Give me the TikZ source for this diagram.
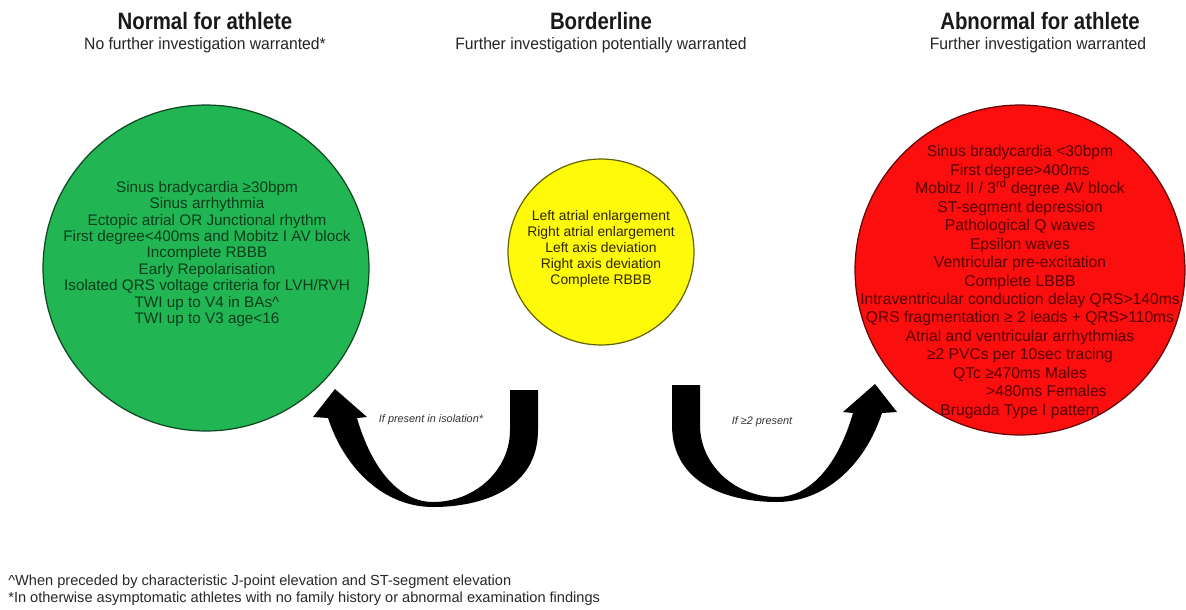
\documentclass[tikz,border=0pt]{standalone}
\usepackage{fontspec}
\setmainfont{Liberation Sans}
\definecolor{gfill}{RGB}{34,181,84}
\definecolor{yfill}{RGB}{255,250,10}
\definecolor{rfill}{RGB}{250,14,14}
\definecolor{gtext}{RGB}{10,62,26}
\definecolor{ytext}{RGB}{45,40,0}
\definecolor{rtext}{RGB}{90,0,0}
\definecolor{ftext}{RGB}{40,40,40}
\tikzset{
  disc/.style={circle, draw=#1!40!black, line width=0.7pt, inner sep=0pt},
  title/.style={font=\fontsize{13.5}{14}\selectfont\bfseries, text=black!90, inner sep=0pt},
  subtitle/.style={font=\fontsize{9.4}{10}\selectfont, text=black!85, inner sep=0pt},
  list/.style={align=center, inner sep=0pt},
  arrowlabel/.style={font=\fontsize{6.2}{7}\selectfont\itshape, text=black!80, inner sep=0pt},
  foot/.style={font=\fontsize{8.3}{9}\selectfont, text=ftext, anchor=west, inner sep=0pt},
  bigarrow/.style={fill=black, draw=none}
}
\begin{document}
\begin{tikzpicture}[x=0.02cm, y=-0.02cm]
\useasboundingbox (0,0) rectangle (1186,609);
\fill[white] (0,0) rectangle (1186,609);

% titles
\node[title] (t1) at (205,21) {\scalebox{0.86}[1]{Normal for athlete}};
\node[subtitle] (s1) at (205,45) {\scalebox{0.95}[1]{No further investigation warranted*}};
\node[title] (t2) at (601,21) {\scalebox{0.86}[1]{Borderline}};
\node[subtitle] (s2) at (601,45) {\scalebox{0.95}[1]{Further investigation potentially warranted}};
\node[title] (t3) at (1040,21) {\scalebox{0.86}[1]{Abnormal for athlete}};
\node[subtitle] (s3) at (1038,45) {\scalebox{0.95}[1]{Further investigation warranted}};

% circles
\node[disc=gfill, fill=gfill, minimum size=6.52cm] (normal) at (206,268) {};
\node[disc=yfill, fill=yfill, minimum size=3.72cm] (border) at (601,252) {};
\node[disc=rfill, fill=rfill, minimum size=6.6cm] (abnormal) at (1020,270) {};

% lists
\node[list, text=gtext, font=\fontsize{8.7}{9.35}\selectfont] (glist) at (207,254) {%
Sinus bradycardia ≥30bpm\\
Sinus arrhythmia\\
Ectopic atrial OR Junctional rhythm\\
First degree<400ms and Mobitz I AV block\\
Incomplete RBBB\\
Early Repolarisation\\
Isolated QRS voltage criteria for LVH/RVH\\
TWI up to V4 in BAs\^{}\\
TWI up to V3 age<16};

\node[list, text=ytext, font=\fontsize{7.9}{9.2}\selectfont] (ylist) at (601,249) {%
Left atrial enlargement\\
Right atrial enlargement\\
Left axis deviation\\
Right axis deviation\\
Complete RBBB};

\node[list, text=rtext, font=\fontsize{8.9}{10.5}\selectfont] (rlist) at (1020,282) {%
Sinus bradycardia <30bpm\\
First degree>400ms\\
Mobitz II / 3\textsuperscript{rd} degree AV block\\
ST-segment depression\\
Pathological Q waves\\
Epsilon waves\\
Ventricular pre-excitation\\
Complete LBBB\\
Intraventricular conduction delay QRS>140ms\\
QRS fragmentation ≥ 2 leads + QRS>110ms\\
Atrial and ventricular arrhythmias\\
≥2 PVCs per 10sec tracing\\
QTc ≥470ms Males\\
\hspace*{30pt}>480ms Females\\
Brugada Type I pattern};

% left curved arrow (borderline -> normal)
\fill[bigarrow] (538,390) -- (538,430)
  .. controls (538,490) and (480,507) .. (433,507)
  .. controls (385,507) and (345,470) .. (328,418)
  -- (313,417) -- (335,389) -- (367,417) -- (357,418)
  .. controls (372,470) and (400,502) .. (433,502)
  .. controls (475,502) and (510,470) .. (510,430)
  -- (510,390) -- cycle;
\node[arrowlabel] (l1) at (431,420) {If present in isolation*};

% right curved arrow (borderline -> abnormal)
\begin{scope}[shift={(1210,-5)}, xscale=-1]
\fill[bigarrow] (538,390) -- (538,430)
  .. controls (538,490) and (480,507) .. (433,507)
  .. controls (385,507) and (345,470) .. (328,418)
  -- (313,417) -- (335,389) -- (367,417) -- (357,418)
  .. controls (372,470) and (400,502) .. (433,502)
  .. controls (475,502) and (510,470) .. (510,430)
  -- (510,390) -- cycle;
\end{scope}
\node[arrowlabel] (l2) at (762,422) {If ≥2 present};

% footnotes
\node[foot] (f1) at (8,582) {\^{}When preceded by characteristic J-point elevation and ST-segment elevation};
\node[foot] (f2) at (8,599) {*In otherwise asymptomatic athletes with no family history or abnormal examination findings};
\end{tikzpicture}
\end{document}
